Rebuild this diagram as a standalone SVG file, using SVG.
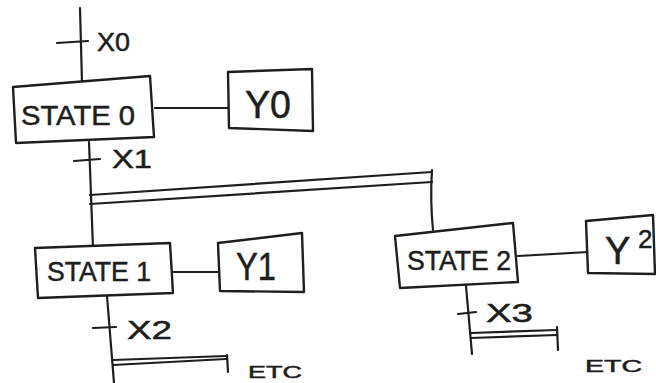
<svg xmlns="http://www.w3.org/2000/svg" width="656" height="383" viewBox="0 0 656 383">
<style>
.ln{fill:none;stroke:#1e1e1e;stroke-width:2.2;stroke-linecap:round;stroke-linejoin:round}
.box{fill:#fff;stroke:#1e1e1e;stroke-width:2.4;stroke-linejoin:round}
.t{font-family:"Liberation Sans","DejaVu Sans",sans-serif;fill:#1e1e1e;stroke:#1e1e1e;stroke-width:0.5}
.st{font-size:27px}
.y{font-size:38px}
.x{font-size:26px}
.etc{font-size:17px}
</style>
<rect width="656" height="383" fill="#fff"/>
<g id="connectors">
<path class="ln" d="M80 8 L82 83"/>
<path class="ln" d="M57 43 L88 41"/>
<path class="ln" d="M155 108 L228 108"/>
<path class="ln" d="M89 142 L93 248"/>
<path class="ln" d="M74 161 L100 159"/>
<path class="ln" d="M90 195 L432 172"/>
<path class="ln" d="M90 204 L432 182"/>
<path class="ln" d="M432 170 Q430 200 433 230"/>
<path class="ln" d="M172 272 L218 272"/>
<path class="ln" d="M107 296 L114 383"/>
<path class="ln" d="M93 328 L116 327"/>
<path class="ln" d="M113 360 L226 356"/>
<path class="ln" d="M113 365 L226 359"/>
<path class="ln" d="M227 355 L228 372"/>
<path class="ln" d="M518 256 L588 252"/>
<path class="ln" d="M466 286 L472 354"/>
<path class="ln" d="M458 314 L476 312"/>
<path class="ln" d="M471 333 L557 330"/>
<path class="ln" d="M471 338 L557 335"/>
<path class="ln" d="M557 327 L558 350"/>
</g>
<g id="state0">
<polygon class="box" points="13,87 150,76 154,137 16,143"/>
<text class="t st" x="21" y="125" textLength="114" lengthAdjust="spacingAndGlyphs">STATE 0</text>
</g>
<g id="y0">
<polygon class="box" points="228,72 312,69 313,131 229,128"/>
<text class="t y" x="245" y="118" textLength="46" lengthAdjust="spacingAndGlyphs">Y0</text>
</g>
<g id="state1">
<polygon class="box" points="35,248 170,243 173,293 38,298"/>
<text class="t st" x="47" y="281" textLength="104" lengthAdjust="spacingAndGlyphs">STATE 1</text>
</g>
<g id="y1">
<polygon class="box" points="218,243 302,233 304,292 220,291"/>
<text class="t y" x="236" y="280" textLength="40" lengthAdjust="spacingAndGlyphs">Y1</text>
</g>
<g id="state2">
<polygon class="box" points="395,236 513,223 518,282 400,288"/>
<text class="t st" x="407" y="270" textLength="104" lengthAdjust="spacingAndGlyphs">STATE 2</text>
</g>
<g id="y2">
<polygon class="box" points="586,221 653,215 655,274 588,273"/>
<text class="t y" x="605" y="264">Y</text>
<text class="t x" x="638" y="248">2</text>
</g>
<g id="labels">
<text class="t x" x="97" y="51" textLength="33" lengthAdjust="spacingAndGlyphs">X0</text>
<text class="t x" x="112" y="168" textLength="40" lengthAdjust="spacingAndGlyphs">X1</text>
<text class="t x" x="127" y="339" textLength="45" lengthAdjust="spacingAndGlyphs">X2</text>
<text class="t x" x="486" y="322" textLength="47" lengthAdjust="spacingAndGlyphs">X3</text>
<text class="t etc" x="248" y="378" textLength="54" lengthAdjust="spacingAndGlyphs">ETC</text>
<text class="t etc" x="585" y="372" textLength="57" lengthAdjust="spacingAndGlyphs">ETC</text>
</g>
</svg>
